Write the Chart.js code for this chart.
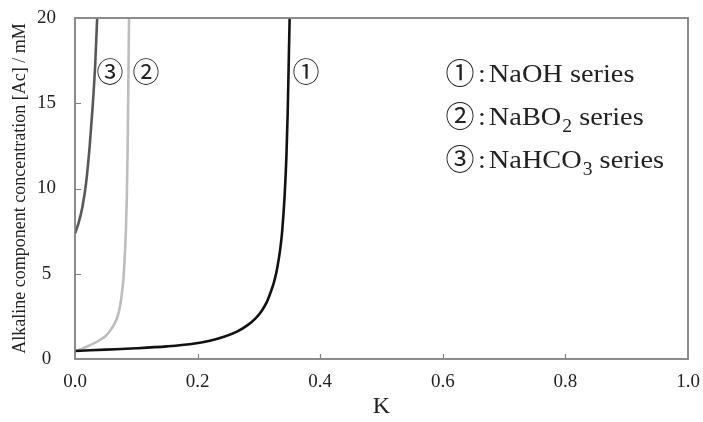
<!DOCTYPE html>
<html>
<head>
<meta charset="utf-8">
<script src="https://cdn.jsdelivr.net/npm/chart.js@4.4.1/dist/chart.umd.min.js"></script>
<style>
  html, body { margin: 0; padding: 0; background: #fff; }
  #wrap { width: 703px; height: 422px; }
</style>
</head>
<body>
<div id="wrap"><canvas id="chart" width="703" height="422"></canvas></div>
<script>
// values: K vs alkaline component concentration (mM)
const naohK = [0, 0.05, 0.10, 0.15, 0.19, 0.22, 0.243, 0.265, 0.281, 0.295, 0.305, 0.313, 0.319, 0.325, 0.330, 0.335, 0.338, 0.342, 0.345, 0.347, 0.349, 0.3505];
const naohAc = [0.47, 0.55, 0.63, 0.74, 0.88, 1.07, 1.3, 1.62, 1.97, 2.4, 2.85, 3.35, 3.9, 4.55, 5.35, 6.5, 7.5, 9.6, 12.0, 14.5, 18.0, 20.6];

const nabo2K = [0, 0.010, 0.020, 0.030, 0.040, 0.050, 0.058, 0.064, 0.069, 0.073, 0.076, 0.079, 0.081, 0.083, 0.0845, 0.0857, 0.0867, 0.0877, 0.0884];
const nabo2Ac = [0.47, 0.58, 0.73, 0.9, 1.1, 1.35, 1.7, 2.05, 2.45, 3.0, 3.7, 4.7, 5.9, 7.5, 9.5, 12.0, 15.0, 18.5, 20.6];

const nahco3K = [0, 0.006, 0.012, 0.018, 0.024, 0.029, 0.033, 0.0365];
const nahco3Ac = [7.35, 8.0, 8.9, 10.3, 12.5, 14.9, 17.3, 20.3];

const xTicks = [0, 0.2, 0.4, 0.6, 0.8, 1.0];
const yTicks = [0, 5, 10, 15, 20];

const tags = ['①', '②', '③'];
const seriesNames = ['NaOH', 'NaBO', 'NaHCO'];
const seriesSubs = ['', '2', '3'];

const SERIF = '"Liberation Serif", "Times New Roman", serif';
const CIRCLE_FONT = '"Noto Sans CJK JP", "DejaVu Sans", sans-serif';

function toPoints(xs, ys) {
  return xs.map((x, i) => ({ x: x, y: ys[i] }));
}

// the legend type in the figure is a little wider than plain Times
function stretchedText(ctx, text, x, y, sx) {
  ctx.save();
  ctx.translate(x, y);
  ctx.scale(sx, 1);
  ctx.fillText(text, 0, 0);
  ctx.restore();
  return ctx.measureText(text).width * sx;
}

// frame, inward ticks, curve tags and in-plot legend
const decorations = {
  id: 'decorations',
  afterDatasetsDraw(chart) {
    const ctx = chart.ctx;
    const { left, right, top, bottom } = chart.chartArea;
    const xs = chart.scales.x;
    const ys = chart.scales.y;

    ctx.save();
    ctx.strokeStyle = '#808080';
    ctx.lineWidth = 1.8;
    ctx.strokeRect(left, top, right - left, bottom - top);

    ctx.lineWidth = 1.2;
    ctx.beginPath();
    xTicks.slice(1, -1).forEach(v => {
      const px = Math.round(xs.getPixelForValue(v)) + 0.5;
      ctx.moveTo(px, bottom);
      ctx.lineTo(px, bottom - 5);
    });
    yTicks.slice(1, -1).forEach(v => {
      const py = Math.round(ys.getPixelForValue(v)) + 0.5;
      ctx.moveTo(left, py);
      ctx.lineTo(left + 6, py);
    });
    ctx.stroke();

    ctx.fillStyle = '#222';
    ctx.textBaseline = 'middle';
    ctx.textAlign = 'center';

    // tags next to the curves
    ctx.font = '27px ' + CIRCLE_FONT;
    const tagPos = [[0.377, 16.85], [0.116, 16.85], [0.057, 16.85]];
    tags.forEach((t, i) => {
      ctx.fillText(t, xs.getPixelForValue(tagPos[i][0]), ys.getPixelForValue(tagPos[i][1]));
    });

    // legend text
    const lx = xs.getPixelForValue(0.628);
    tags.forEach((t, i) => {
      const base = ys.getPixelForValue(16.27) + i * 43.3;
      ctx.textAlign = 'center';
      ctx.textBaseline = 'middle';
      ctx.font = '29px ' + CIRCLE_FONT;
      ctx.fillText(t, lx, base - 9);
      ctx.textAlign = 'left';
      ctx.textBaseline = 'alphabetic';
      ctx.font = '26px ' + SERIF;
      let x = lx + 18;
      x += stretchedText(ctx, ':', x, base, 1.09) + 3;
      x += stretchedText(ctx, seriesNames[i], x, base, 1.09);
      if (seriesSubs[i]) {
        ctx.font = '18px ' + SERIF;
        x += stretchedText(ctx, seriesSubs[i], x + 1, base + 7, 1.09) + 1;
        ctx.font = '26px ' + SERIF;
      }
      stretchedText(ctx, ' series', x, base, 1.09);
    });
    ctx.restore();
  }
};

new Chart(document.getElementById('chart'), {
  type: 'scatter',
  data: {
    datasets: [
      { label: 'NaOH series', data: toPoints(naohK, naohAc), borderColor: '#111111', borderWidth: 2.6 },
      { label: 'NaBO2 series', data: toPoints(nabo2K, nabo2Ac), borderColor: '#bdbdbd', borderWidth: 2.6 },
      { label: 'NaHCO3 series', data: toPoints(nahco3K, nahco3Ac), borderColor: '#585858', borderWidth: 2.6 }
    ].map(d => Object.assign(d, {
      showLine: true,
      pointRadius: 0,
      cubicInterpolationMode: 'monotone',
      fill: false
    }))
  },
  options: {
    responsive: false,
    animation: false,
    layout: { padding: { top: 18, right: 15, left: 0, bottom: 0 } },
    plugins: { legend: { display: false }, tooltip: { enabled: false } },
    scales: {
      x: {
        type: 'linear',
        min: 0,
        max: 1,
        afterBuildTicks: s => { s.ticks = xTicks.map(v => ({ value: v })); },
        afterFit: s => { s.height = 63; s.paddingLeft = 0; s.paddingRight = 0; },
        grid: { display: false, drawTicks: false },
        border: { display: false },
        ticks: {
          padding: 12,
          color: '#222',
          font: { family: SERIF, size: 19 },
          callback: v => Number(v).toFixed(1)
        },
        title: {
          display: true,
          text: 'K',
          color: '#222',
          font: { family: SERIF, size: 24 },
          padding: { top: 0, bottom: 1 }
        }
      },
      y: {
        type: 'linear',
        min: 0,
        max: 20,
        afterBuildTicks: s => { s.ticks = yTicks.map(v => ({ value: v })); },
        afterFit: s => { s.width = 75; s.paddingTop = 0; s.paddingBottom = 0; },
        grid: { display: false, drawTicks: false },
        border: { display: false },
        ticks: {
          padding: 19,
          crossAlign: 'center',
          color: '#222',
          font: { family: SERIF, size: 19 }
        },
        title: {
          display: true,
          text: 'Alkaline component concentration [Ac] / mM',
          color: '#222',
          font: { family: SERIF, size: 18 },
          padding: { top: 9, bottom: 0 }
        }
      }
    }
  },
  plugins: [decorations]
});
</script>
</body>
</html>
